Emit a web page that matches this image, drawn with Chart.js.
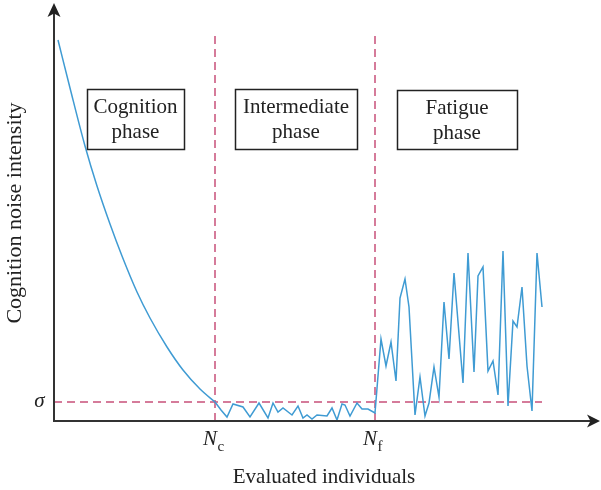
<!DOCTYPE html>
<html>
<head>
<meta charset="utf-8">
<script src="https://cdn.jsdelivr.net/npm/chart.js@4.4.1/dist/chart.umd.min.js"></script>
<style>
  html, body { margin: 0; padding: 0; background: #ffffff; }
  canvas { display: block; }
</style>
</head>
<body>
<canvas id="c" width="601" height="490"></canvas>
<script>
// ---- Data ----
// Cognition phase: smoothly decaying noise intensity
const cognitionX = [4, 16, 31, 43, 56, 68, 83, 96, 113, 129, 146, 161];
const cognitionY = [381, 333, 275, 235, 197, 165, 129, 103, 74, 51, 32, 19];
// Intermediate phase: small noise just under sigma
const intermediateX = [161, 167, 173, 179, 189, 196, 205, 214, 219, 224, 229, 238, 244, 249, 253, 258, 263, 273, 278, 283, 288, 291, 296, 303, 308, 314, 321];
const intermediateY = [19, 11, 4, 17, 14, 4, 18, 3, 18, 9, 13, 6, 15, 3, 6, 2, 6, 5, 13, 1, 17, 16, 5, 18, 12, 12, 8];
// Fatigue phase: large noise
const fatigueX = [321, 327, 332, 337, 342, 346, 351, 355, 361, 366, 371, 375, 380, 385, 390, 395, 400, 409, 414, 420, 424, 429, 434, 439, 444, 449, 454, 459, 463, 468, 473, 478, 483, 488];
const fatigueY = [8, 82, 55, 79, 40, 123, 142, 114, 6, 44, 5, 18, 54, 24, 119, 62, 148, 38, 168, 49, 145, 154, 50, 60, 26, 170, 15, 100, 94, 134, 55, 10, 168, 114];

// Reference levels
const SIGMA = 19;      // sigma threshold
const NC = 161;        // N_c
const NF = 321;        // N_f
const X_LAST = 488;    // last evaluated individual
const DASH_TOP = 386;

const phaseLabels = [["Cognition", "phase"], ["Intermediate", "phase"], ["Fatigue", "phase"]];
const axisTitleX = "Evaluated individuals";
const axisTitleY = "Cognition noise intensity";

// ---- Layout (styling only) ----
const phaseBoxes = [
  { x0: 33, x1: 130, yTop: 332, yBot: 272 },
  { x0: 181, x1: 303, yTop: 332, yBot: 272 },
  { x0: 343, x1: 463, yTop: 331, yBot: 272 }
];

const zip = (xs, ys) => xs.map((x, i) => ({ x: x, y: ys[i] }));
const noiseX = intermediateX.concat(fatigueX.slice(1));
const noiseY = intermediateY.concat(fatigueY.slice(1));

const BLUE = '#3f9bd3';
const PINK = '#c8507a';
const INK = '#222222';
const SERIF = '"Liberation Serif", "DejaVu Serif", serif';

const overlay = {
  id: 'overlay',
  afterDraw(chart) {
    const ctx = chart.ctx;
    const xs = chart.scales.x, ys = chart.scales.y;
    const px = v => xs.getPixelForValue(v);
    const py = v => ys.getPixelForValue(v);
    const ca = chart.chartArea;
    ctx.save();
    // axes
    ctx.strokeStyle = '#333333';
    ctx.fillStyle = '#222222';
    ctx.lineWidth = 2;
    const ox = px(0), oy = py(0);
    ctx.beginPath();
    ctx.moveTo(ox, oy);
    ctx.lineTo(ox, ca.top + 8);
    ctx.moveTo(ox - 1, oy);
    ctx.lineTo(ca.right - 8, oy);
    ctx.stroke();
    // arrow heads
    ctx.beginPath();
    ctx.moveTo(ox, ca.top);
    ctx.lineTo(ox + 6.5, ca.top + 14);
    ctx.lineTo(ox, ca.top + 10.5);
    ctx.lineTo(ox - 6.5, ca.top + 14);
    ctx.closePath();
    ctx.fill();
    ctx.beginPath();
    ctx.moveTo(ca.right, oy);
    ctx.lineTo(ca.right - 13, oy - 6.5);
    ctx.lineTo(ca.right - 9.5, oy);
    ctx.lineTo(ca.right - 13, oy + 6.5);
    ctx.closePath();
    ctx.fill();

    // phase boxes
    ctx.strokeStyle = INK;
    ctx.lineWidth = 1.5;
    ctx.fillStyle = INK;
    ctx.font = '21px ' + SERIF;
    ctx.textAlign = 'center';
    ctx.textBaseline = 'alphabetic';
    phaseBoxes.forEach((b, i) => {
      const l = px(b.x0), r = px(b.x1), t = py(b.yTop), bt = py(b.yBot);
      ctx.strokeRect(Math.round(l) + 0.5, Math.round(t) + 0.5, Math.round(r - l), Math.round(bt - t));
      const cx = (l + r) / 2;
      ctx.fillText(phaseLabels[i][0], cx, t + 24);
      ctx.fillText(phaseLabels[i][1], cx, t + 49);
    });

    // axis titles
    ctx.fillText(axisTitleX, 324, 483);
    ctx.save();
    ctx.translate(21, 213);
    ctx.rotate(-Math.PI / 2);
    ctx.font = '22px ' + SERIF;
    ctx.textBaseline = 'alphabetic';
    ctx.fillText(axisTitleY, 0, 0);
    ctx.restore();

    // sigma label
    ctx.font = 'italic 21px ' + SERIF;
    ctx.textAlign = 'center';
    ctx.fillText('σ', 39.5, py(SIGMA) + 5);

    // N_c and N_f labels
    const drawN = (val, sub) => {
      const x = px(val);
      ctx.font = 'italic 21px ' + SERIF;
      ctx.textAlign = 'left';
      ctx.fillText('N', x - 12, 445);
      const w = ctx.measureText('N').width;
      ctx.font = '15px ' + SERIF;
      ctx.fillText(sub, x - 12 + w + 0.5, 451);
    };
    drawN(NC, 'c');
    drawN(NF, 'f');
    ctx.restore();
  }
};

const dashedStyle = {
  borderColor: PINK,
  borderWidth: 1.5,
  borderDash: [8, 5],
  pointRadius: 0,
  tension: 0,
  order: 2
};

new Chart(document.getElementById('c'), {
  type: 'line',
  data: {
    datasets: [
      Object.assign({ label: 'sigma', data: [{ x: 0, y: SIGMA }, { x: X_LAST, y: SIGMA }] }, dashedStyle),
      Object.assign({ label: 'Nc', data: [{ x: NC, y: 0 }, { x: NC, y: DASH_TOP }] }, dashedStyle),
      Object.assign({ label: 'Nf', data: [{ x: NF, y: 0 }, { x: NF, y: DASH_TOP }] }, dashedStyle),
      {
        label: 'cognition',
        data: zip(cognitionX, cognitionY),
        borderColor: BLUE,
        borderWidth: 1.5,
        pointRadius: 0,
        cubicInterpolationMode: 'monotone',
        order: 0
      },
      {
        label: 'noise',
        data: zip(noiseX, noiseY),
        borderColor: BLUE,
        borderWidth: 1.5,
        pointRadius: 0,
        tension: 0,
        order: 0
      }
    ]
  },
  options: {
    responsive: false,
    animation: false,
    devicePixelRatio: 1,
    layout: { padding: { left: 54, right: 1, top: 3, bottom: 69 } },
    scales: {
      x: { type: 'linear', min: 0, max: 546, display: false },
      y: { type: 'linear', min: 0, max: 418, display: false }
    },
    plugins: {
      legend: { display: false },
      tooltip: { enabled: false }
    },
    elements: { line: { fill: false } }
  },
  plugins: [overlay]
});
</script>
</body>
</html>
